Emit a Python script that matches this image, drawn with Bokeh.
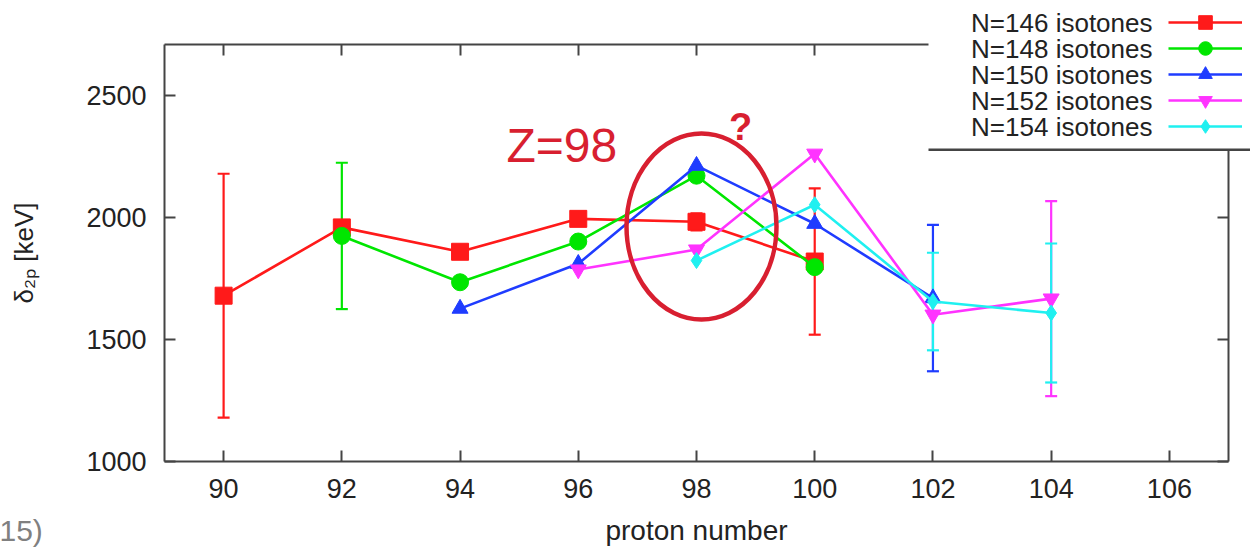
import math
from bokeh.plotting import figure
from bokeh.models import (ColumnDataSource, Whisker, TeeHead, FixedTicker, LinearAxis,
                          Legend, LegendItem, Label, BoxAnnotation, Range1d)
from bokeh.embed import file_html
from bokeh.resources import INLINE

nan = float("nan")

# ---------------- data ----------------
proton = [90, 92, 94, 96, 98, 100, 102, 104]
series_names = ["N=146 isotones", "N=148 isotones", "N=150 isotones",
                "N=152 isotones", "N=154 isotones"]
n146 = [1680, 1960, 1860, 1995, 1983, 1820, nan, nan]
n146_err = [500, 0, 0, 0, 35, 300, 0, 0]
n148 = [nan, 1925, 1735, 1902, 2172, 1797, nan, nan]
n148_err = [0, 300, 0, 0, 0, 0, 0, 0]
n150 = [nan, nan, 1627, 1811, 2213, 1975, 1670, nan]
n150_err = [0, 0, 0, 0, 0, 0, 300, 0]
n152 = [nan, nan, nan, 1787, 1869, 2262, 1602, 1668]
n152_err = [0, 0, 0, 0, 0, 0, 0, 400]
n154 = [nan, nan, nan, nan, 1824, 2053, 1656, 1609]
n154_err = [0, 0, 0, 0, 0, 0, 200, 285]

x_ticks = [90, 92, 94, 96, 98, 100, 102, 104, 106]
y_ticks = [1000, 1500, 2000, 2500]
x_box = (89, 107)      # extent of the framed plot area (proton number)
y_box = (1000, 2710)   # extent of the framed plot area (keV)

colors = ["#ff1a1a", "#00e600", "#1f3cff", "#ff33ff", "#1ff0f0"]
markers = ["square", "circle", "triangle", "inverted_triangle", "diamond"]
msizes = [17, 17, 16, 16, 16]

# ---------------- geometry ----------------
W, H = 1250, 549
GL, GR, GT, GB = 164, 1228, 44, 461   # pixel position of the framed box
SX = (x_box[1] - x_box[0]) / (GR - GL)
SY = (y_box[1] - y_box[0]) / (GB - GT)


def dx(px):
    return x_box[0] + (px - GL) * SX


def dy(py):
    return y_box[0] + (GB - py) * SY


FONT = "Liberation Sans"
TXT = "#222222"
ACCENT = "#d81f30"

p = figure(width=W, height=H, output_backend="svg", toolbar_location=None,
           x_range=Range1d(dx(0), dx(W)), y_range=Range1d(dy(H), dy(0)),
           min_border_left=0, min_border_right=0, min_border_top=0,
           min_border_bottom=0, x_axis_location=None, y_axis_location=None)
p.grid.visible = False
p.outline_line_color = None
p.background_fill_color = "white"
p.border_fill_color = "white"


def style_axis(ax, labels=True):
    ax.axis_line_color = "#444444"
    ax.axis_line_width = 2
    ax.major_tick_line_color = "#444444"
    ax.major_tick_line_width = 2
    ax.major_tick_in = 11
    ax.major_tick_out = 0
    ax.minor_tick_line_color = None
    if labels:
        ax.major_label_text_font = FONT
        ax.major_label_text_font_size = "27px"
        ax.major_label_text_color = TXT
        ax.axis_label_text_font = FONT
        ax.axis_label_text_font_size = "28px"
        ax.axis_label_text_color = TXT
        ax.axis_label_text_font_style = "normal"
    else:
        ax.major_label_text_font_size = "0px"
        ax.major_label_text_alpha = 0


xb = LinearAxis(ticker=FixedTicker(ticks=x_ticks), axis_label="proton number",
                fixed_location=y_box[0], bounds=x_box)
style_axis(xb)
xb.major_label_standoff = 17
xb.axis_label_standoff = 14
p.add_layout(xb, "below")

yl = LinearAxis(ticker=FixedTicker(ticks=y_ticks), axis_label="δ₂ₚ [keV]",
                fixed_location=x_box[0], bounds=y_box)
style_axis(yl)
yl.major_label_standoff = 18
yl.axis_label_standoff = 44
yl.axis_label_text_font_size = "26px"
p.add_layout(yl, "left")

xt = LinearAxis(ticker=FixedTicker(ticks=x_ticks), fixed_location=y_box[1], bounds=x_box)
style_axis(xt, labels=False)
p.add_layout(xt, "above")

yr = LinearAxis(ticker=FixedTicker(ticks=y_ticks), fixed_location=x_box[1], bounds=y_box)
style_axis(yr, labels=False)
p.add_layout(yr, "right")

# ---------------- series ----------------
all_vals = [n146, n148, n150, n152, n154]
all_errs = [n146_err, n148_err, n150_err, n152_err, n154_err]
legend_items = []
for name, vals, errs, c, m, ms in zip(series_names, all_vals, all_errs, colors, markers, msizes):
    xs = [z for z, v in zip(proton, vals) if not math.isnan(v)]
    ys = [v for v in vals if not math.isnan(v)]
    src = ColumnDataSource(dict(x=xs, y=ys))
    ex = [z for z, v, e in zip(proton, vals, errs) if not math.isnan(v) and e > 0]
    ev = [v for v, e in zip(vals, errs) if not math.isnan(v) and e > 0]
    ee = [e for v, e in zip(vals, errs) if not math.isnan(v) and e > 0]
    esrc = ColumnDataSource(dict(x=ex, upper=[v + e for v, e in zip(ev, ee)],
                                 lower=[v - e for v, e in zip(ev, ee)]))
    wh = Whisker(base="x", upper="upper", lower="lower", source=esrc,
                 line_color=c, line_width=2.2,
                 upper_head=TeeHead(size=12, line_color=c, line_width=2.2),
                 lower_head=TeeHead(size=12, line_color=c, line_width=2.2))
    p.add_layout(wh)
    ln = p.line("x", "y", source=src, line_color=c, line_width=2.6)
    sc = p.scatter("x", "y", source=src, marker=m, size=ms, fill_color=c, line_color=c)
    legend_items.append(LegendItem(label=" ", renderers=[ln, sc]))

# ---------------- annotations ----------------
p.ellipse(x=[dx(701)], y=[dy(226)], width=150, height=186,
          width_units="screen", height_units="screen",
          fill_alpha=0, line_color=ACCENT, line_width=4.5)
p.add_layout(Label(x=dx(506), y=dy(145), text="Z=98", text_font=FONT,
                   text_font_size="48px", text_color=ACCENT, text_baseline="middle"))
p.add_layout(Label(x=dx(740), y=dy(126), text="?", text_font=FONT,
                   text_font_size="38px", text_font_style="bold", text_color=ACCENT,
                   text_align="center", text_baseline="middle"))
p.add_layout(Label(x=dx(-1), y=dy(530), text="15)", text_font=FONT,
                   text_font_size="30px", text_color="#808080", text_baseline="middle"))

# legend panel (white box covering top-right corner)
p.add_layout(BoxAnnotation(left=dx(928), right=dx(1260), bottom=dy(149), top=dy(-10),
                           fill_color="white", fill_alpha=1, line_alpha=0, level="annotation"))
p.add_layout(BoxAnnotation(left=dx(928), right=dx(1260), bottom=dy(150.5), top=dy(148),
                           fill_color="#444444", fill_alpha=1, line_alpha=0, level="annotation"))
row_y = [22, 48, 74, 100, 126]
for name, ry, item in zip(series_names, row_y, legend_items):
    p.add_layout(Label(x=dx(1152), y=dy(ry), text=name, text_font=FONT,
                       text_font_size="26px", text_color=TXT, text_align="right",
                       text_baseline="middle"))
    lg = Legend(items=[item], location=(1168, H - (ry + 17)),
                glyph_width=74, glyph_height=34, spacing=0, padding=0, margin=0,
                label_width=0, label_standoff=0, label_height=1,
                label_text_font_size="1px",
                background_fill_alpha=0, border_line_alpha=0)
    p.add_layout(lg)

open("out.html", "w").write(file_html(p, INLINE))
